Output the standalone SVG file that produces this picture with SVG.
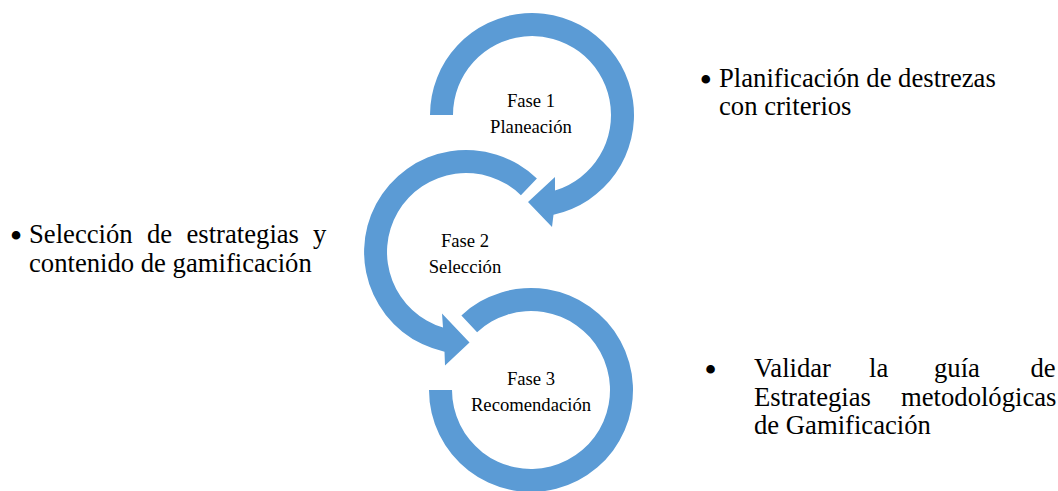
<svg xmlns="http://www.w3.org/2000/svg" width="1058" height="491" viewBox="0 0 1058 491">
<style>
.arc{fill:#5B9BD5}
.ph{font-family:"Liberation Serif","Times New Roman",serif;font-size:18.67px;fill:#000;text-anchor:middle}
.bl{font-family:"Liberation Serif","Times New Roman",serif;font-size:26.67px;fill:#000}
.bu{font-family:"Liberation Serif","Times New Roman",serif;font-size:36px;fill:#000}
</style>
<rect width="1058" height="491" fill="#fff"/>
<g id="phase1">
<path class="arc" d="M430,115 A102,102 0 1 1 553.5,214.7 L552,227 L528,202 L555,177 L555,190.6 A79,79 0 1 0 453,115 Z"/>
<text class="ph" x="531" y="107">Fase 1</text>
<text class="ph" x="531" y="133">Planeación</text>
</g>
<g id="phase2">
<path class="arc" d="M536.9,178.6 A102,102 0 1 0 444.5,351.7 L445,365.5 L469.5,342.5 L442,313.5 L443,327.6 A79,79 0 1 1 520.9,195.2 Z"/>
<text class="ph" x="465" y="247">Fase 2</text>
<text class="ph" x="465" y="273">Selección</text>
</g>
<g id="phase3">
<path class="arc" d="M461.4,315.4 A102,102 0 1 1 429,390 L452,390 A79,79 0 1 0 477.1,332.2 Z"/>
<text class="ph" x="531" y="385">Fase 3</text>
<text class="ph" x="531" y="411">Recomendación</text>
</g>
<g id="connectors"></g>
<g id="note1">
<text class="bu" x="699.4" y="92.2">•</text>
<text class="bl" x="719" y="87">Planificación de destrezas</text>
<text class="bl" x="719" y="115">con criterios</text>
</g>
<g id="note2">
<text class="bu" x="9.7" y="248.2">•</text>
<text class="bl" y="243"><tspan x="29">Selección</tspan><tspan x="147">de</tspan><tspan x="186.5">estrategias</tspan><tspan x="313">y</tspan></text>
<text class="bl" x="29" y="272">contenido de gamificación</text>
</g>
<g id="note3">
<text class="bu" x="704.2" y="382.2">•</text>
<text class="bl" y="377"><tspan x="754">Validar</tspan><tspan x="869">la</tspan><tspan x="934">guía</tspan><tspan x="1030.5">de</tspan></text>
<text class="bl" y="405.5"><tspan x="754">Estrategias</tspan><tspan x="901">metodológicas</tspan></text>
<text class="bl" x="754" y="434">de Gamificación</text>
</g>
</svg>
